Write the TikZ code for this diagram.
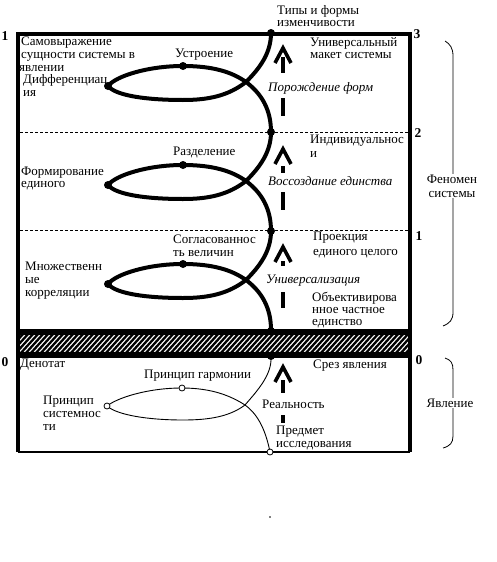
\documentclass[tikz,border=0pt]{standalone}
\usepackage{fontspec}
\setmainfont{Liberation Serif}
\begin{document}
\begin{tikzpicture}[x=1pt,y=-1pt,
  lbl/.style={anchor=base west, inner sep=0pt, font=\fontsize{13}{14}\selectfont},
  ilbl/.style={anchor=base west, inner sep=0pt, font=\fontsize{13}{14}\selectfont\itshape},
  side/.style={inner sep=1pt, fill=white, align=center, font=\fontsize{13}{14}\selectfont},
  num/.style={inner sep=0pt, font=\fontsize{13.5}{14}\selectfont\bfseries},
  spiral/.style={line width=4pt, line cap=round, line join=round},
  thincurve/.style={line width=0.9pt},
  dot/.style={circle, fill=black, inner sep=0pt, minimum size=8pt},
  odot/.style={circle, draw=black, fill=white, line width=0.8pt, inner sep=0pt, minimum size=6pt},
  stem/.style={line width=4pt},
  chev/.style={line width=3.6pt, miter limit=10},
  sepline/.style={line width=0.8pt, dash pattern=on 3pt off 2pt},
  bracepath/.style={line width=0.8pt}]
\fill[white] (0,0) rectangle (497,562);
\useasboundingbox (0,0) rectangle (497,562);

% frame
\coordinate (fbl) at (18,452);
\coordinate (ftl) at (18,33.5);
\coordinate (ftr) at (410,33.5);
\coordinate (fbr) at (410,452);
\draw[line width=4pt] (fbl) -- (ftl) -- (ftr) -- (fbr);
\draw[line width=1.3pt] (fbl) -- (fbr);

% level separators
\coordinate (s2a) at (20,132); \coordinate (s2b) at (408,132);
\coordinate (s1a) at (20,230); \coordinate (s1b) at (408,230);
\draw[sepline] (s2a) -- (s2b);
\draw[sepline] (s1a) -- (s1b);

% hatched bar
\fill[black] (18,329) rectangle (410,335);
\fill[black] (18,352) rectangle (410,358);
\begin{scope}
  \clip (18,335) rectangle (410,352);
  \foreach \x in {0,5,...,420} {
    \draw[line width=2.3pt] (\x,354) -- (\x+19,333);
  }
\end{scope}

% level numbers
\node[num] (n1l) at (5,36) {1};
\node[num] (n3) at (417,34) {3};
\node[num] (n2) at (418,133) {2};
\node[num] (n1r) at (419,236) {1};
\node[num] (n0l) at (5,362) {0};
\node[num] (n0r) at (419,360) {0};

% braces
\draw[bracepath] (445,41) .. controls (450,44) and (453,48) .. (453,56) -- (453,312) .. controls (453,320) and (450,323) .. (443,326);
\draw[bracepath] (445,358) .. controls (451,360) and (453,363) .. (453,370) -- (453,436) .. controls (453,443) and (450,446) .. (443,448);
\node[side] (phen) at (452,186) {Феномен\\системы};
\node[side] (yavl) at (450,403) {Явление};

% dashed arrows
\foreach \t in {48,149,247,367} {
  \draw[chev] (275,\t+15) -- (283,\t) -- (291,\t+15);
}
\foreach \a/\b in {57/73, 98/116, 166/173, 192/210, 261/266, 292/308, 380/393, 415/423} {
  \draw[stem] (283,\a) -- (283,\b);
}

% texts
\node[lbl] (ta) at (277,14) {Типы и формы};
\node[lbl] (tb) at (277,26) {изменчивости};
\node[lbl] (sa) at (21,45) {Самовыражение};
\node[lbl] (sb) at (21,58) {сущности системы в};
\node[lbl] (sc) at (19,71) {явлении};
\node[lbl] (da) at (23,83) {Дифференциац};
\node[lbl] (db) at (23,96) {ия};
\node[lbl] (us) at (175,57) {Устроение};
\node[lbl] (ua) at (310,46) {Универсальный};
\node[lbl] (ub) at (310,58) {макет системы};
\node[ilbl] (pf) at (268,91) {Порождение форм};
\node[lbl] (ia) at (310,143) {Индивидуальнос};
\node[lbl] (ib) at (310,157) {и};
\node[ilbl] (ve) at (268,185) {Воссоздание единства};
\node[lbl] (fa) at (21,175) {Формирование};
\node[lbl] (fb) at (21,187) {единого};
\node[lbl] (rz) at (173,155) {Разделение};
\node[lbl] (ga) at (173,243) {Согласованнос};
\node[lbl] (gb) at (173,256) {ть величин};
\node[lbl] (ma) at (25,270) {Множественн};
\node[lbl] (mb) at (25,283) {ые};
\node[lbl] (mc) at (25,296) {корреляции};
\node[lbl] (pa) at (313,240) {Проекция};
\node[lbl] (pb) at (313,255) {единого целого};
\node[ilbl] (un) at (266,283) {Универсализация};
\node[lbl] (oa) at (312,301) {Объективирова};
\node[lbl] (ob) at (312,313) {нное частное};
\node[lbl] (oc) at (312,325) {единство};
\node[lbl] (den) at (20,367) {Денотат};
\node[lbl] (pg) at (144,378) {Принцип гармонии};
\node[lbl] (psa) at (43,404) {Принцип};
\node[lbl] (psb) at (43,417) {системнос};
\node[lbl] (psc) at (43,430) {ти};
\node[lbl] (sr) at (313,368) {Срез явления};
\node[lbl] (re) at (262,408) {Реальность};
\node[lbl] (pra) at (276,434) {Предмет};
\node[lbl] (prb) at (276,447) {исследования};

% thick spiral
\foreach \k in {0,1,2} {
  \begin{scope}[shift={(0,99*\k)}]
    \coordinate (p\k) at (271,33);
    \coordinate (c\k) at (246,82);
    \coordinate (b\k) at (183,100);
    \coordinate (l\k) at (108,86);
    \coordinate (t\k) at (183,66);
    \coordinate (e\k) at (271,132);
    \draw[spiral] (p\k) .. controls +(0,20) and +(14,-14) .. (c\k)
      .. controls +(-18,14) and +(25,0) .. (b\k)
      .. controls +(-35,0) and +(8,10) .. (l\k)
      .. controls +(8,-10) and +(-35,0) .. (t\k)
      .. controls +(30,0) and +(-14,-10) .. (c\k)
      .. controls +(16,12) and +(0,-22) .. (e\k);
    \node[dot] (dp\k) at (p\k) {};
    \node[dot] (dt\k) at (t\k) {};
    \node[dot] (dl\k) at (l\k) {};
  \end{scope}
}
\node[dot] (dbar1) at (271,331) {};
\node[dot] (dbar2) at (271,356) {};

% thin loop
\coordinate (q0) at (271,357);
\coordinate (qc) at (245,405);
\coordinate (qb) at (183,420);
\coordinate (ql) at (107,406);
\coordinate (qt) at (182,388);
\coordinate (q1) at (270,452);
\draw[thincurve] (q0) .. controls +(1,18) and +(12,-14) .. (qc)
  .. controls +(-16,12) and +(25,0) .. (qb)
  .. controls +(-35,0) and +(10,9) .. (ql)
  .. controls +(10,-8) and +(-35,0) .. (qt)
  .. controls +(30,0) and +(-14,-9) .. (qc)
  .. controls +(14,10) and +(-4,-20) .. (q1);
\node[odot] (oq1) at (ql) {};
\node[odot] (oq2) at (qt) {};
\node[odot] (oq3) at (q1) {};
\fill (270,517) circle (0.8);
\end{tikzpicture}
\end{document}
